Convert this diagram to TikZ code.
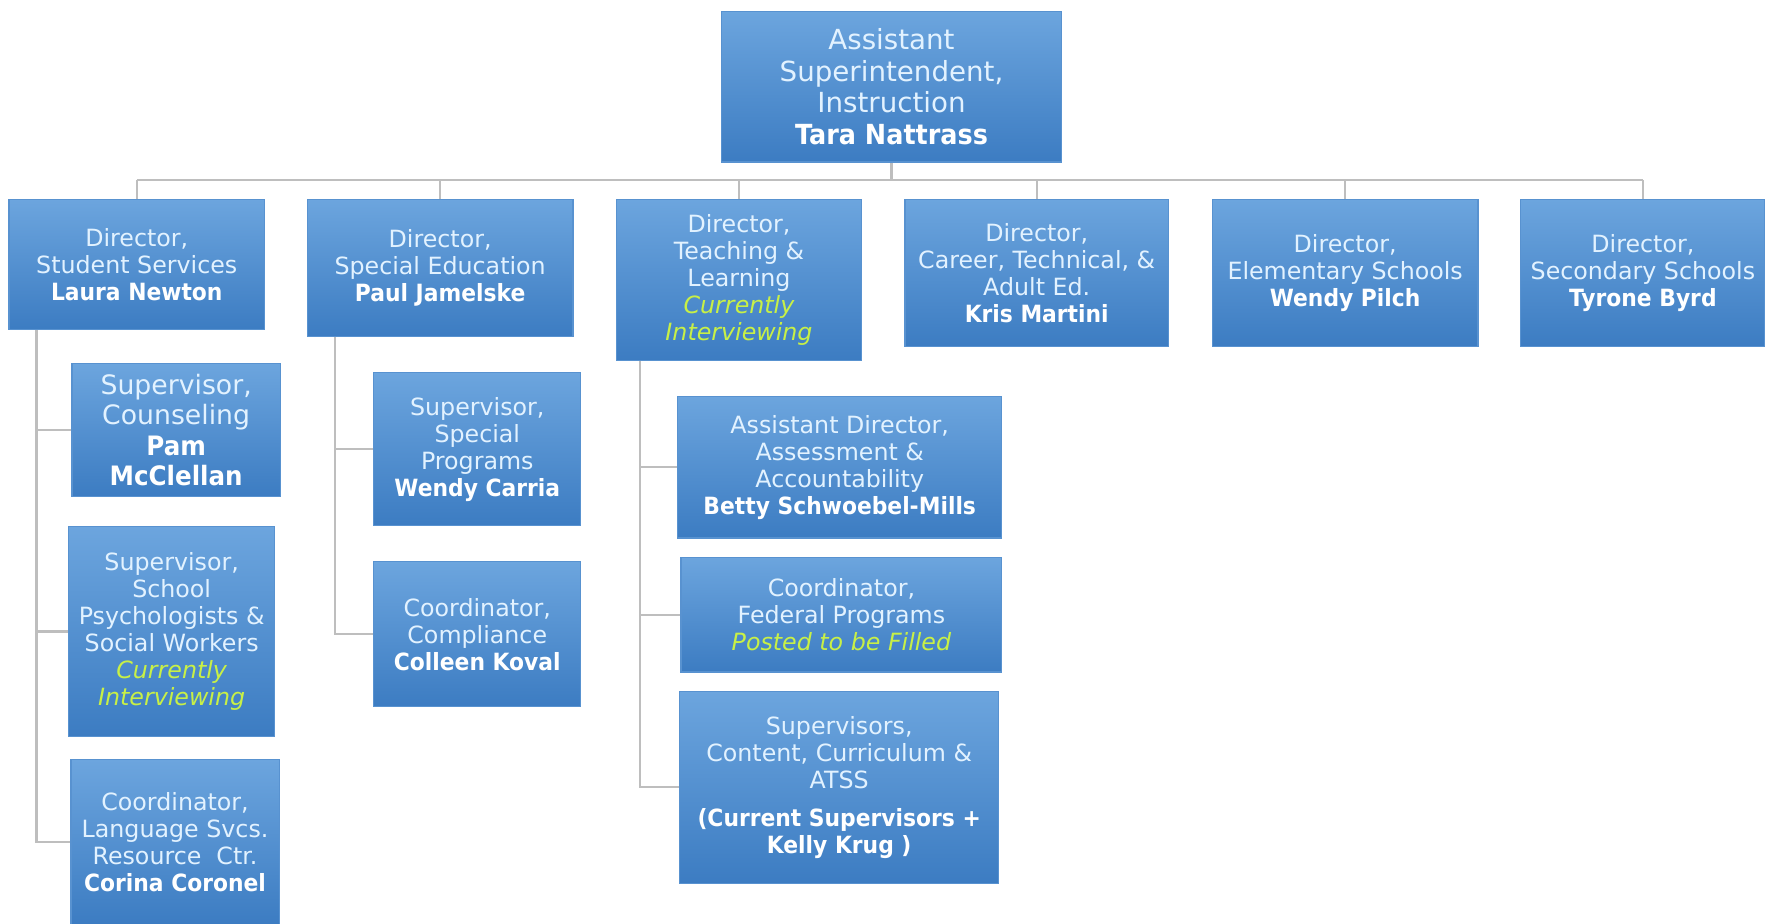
\documentclass[tikz,border=0pt]{standalone}
\usepackage{fontspec}
\setmainfont{DejaVu Sans}[BoldFeatures={FakeStretch=0.92}]
\definecolor{boxtop}{RGB}{108,165,222}
\definecolor{boxbot}{RGB}{60,124,194}
\definecolor{boxedge}{RGB}{88,146,208}
\definecolor{boxtext}{RGB}{226,242,255}
\definecolor{pending}{RGB}{200,240,70}
\definecolor{wire}{RGB}{190,190,190}
\tikzset{
  box/.style={rectangle, draw=boxedge, line width=0.6pt, top color=boxtop, bottom color=boxbot,
    text=boxtext, align=center, inner sep=0pt, font=\fontsize{12}{13.66}\selectfont},
  sz/.style 2 args={minimum width=#1*0.02cm, minimum height=#2*0.02cm},
  wire/.style={draw=wire, line width=1.1pt},
}
\newcommand{\who}[1]{\textbf{\color{white}#1}}
\newcommand{\open}[1]{{\color{pending}\itshape #1}}
\begin{document}
\begin{tikzpicture}[x=0.02cm, y=-0.02cm]
\useasboundingbox (0,0) rectangle (1568,820);

\node[box, sz={302}{134}, font=\fontsize{14}{15.9}\selectfont] (sup) at (792,77)
  {Assistant\\Superintendent,\\Instruction\\\who{Tara Nattrass}};

\node[box, sz={227}{116}] (dss) at (121.5,235) {Director,\\Student Services\\\who{Laura Newton}};
\node[box, sz={236}{122}] (dse) at (391,238) {Director,\\Special Education\\\who{Paul Jamelske}};
\node[box, sz={217}{143}] (dtl) at (656.5,248.5) {Director,\\Teaching \&\\Learning\\\open{Currently}\\\open{Interviewing}};
\node[box, sz={234}{131}] (dct) at (921,242.5) {Director,\\Career, Technical, \&\\Adult Ed.\\\who{Kris Martini}};
\node[box, sz={236}{131}] (des) at (1195,242.5) {Director,\\Elementary Schools\\\who{Wendy Pilch}};
\node[box, sz={217}{131}] (dsc) at (1459.5,242.5) {Director,\\Secondary Schools\\\who{Tyrone Byrd}};

\node[box, sz={185}{118}, font=\fontsize{13.5}{15.4}\selectfont] (pam) at (156.5,382)
  {Supervisor,\\Counseling\\\who{Pam}\\\who{McClellan}};
\node[box, sz={183}{186}] (psy) at (152.5,561)
  {Supervisor,\\School\\Psychologists \&\\Social Workers\\\open{Currently}\\\open{Interviewing}};
\node[box, sz={185}{146}] (cor) at (155.5,748)
  {Coordinator,\\Language Svcs.\\Resource\ \ Ctr.\\\who{Corina Coronel}};

\node[box, sz={184}{136}] (car) at (424,399) {Supervisor,\\Special\\Programs\\\who{Wendy Carria}};
\node[box, sz={184}{129}] (kov) at (424,563.5) {Coordinator,\\Compliance\\\who{Colleen Koval}};

\node[box, sz={288}{126}] (bet) at (746,415)
  {Assistant Director,\\Assessment \&\\Accountability\\\who{Betty Schwoebel-Mills}};
\node[box, sz={285}{102}] (fed) at (747.5,546)
  {Coordinator,\\Federal Programs\\\open{Posted to be Filled}};
\node[box, sz={283}{171}] (cur) at (745.5,699.5)
  {Supervisors,\\Content, Curriculum \&\\ATSS\\[5.5pt]\who{(Current Supervisors +}\\\who{Kelly Krug )}};

% bus under the top box
\coordinate (bus) at (792,160);
\draw[wire] (sup.south) -- (bus);
\draw[wire] (dss.north |- bus) -- (dsc.north |- bus);
\foreach \d in {dss,dse,dtl,dct,des,dsc}
  \draw[wire] (\d.north) -- (\d.north |- bus);

% side trunks
\foreach \s in {pam,psy,cor}
  \draw[wire] ([xshift=25*0.02cm]dss.south west) |- (\s.west);
\foreach \s in {car,kov}
  \draw[wire] ([xshift=25*0.02cm]dse.south west) |- (\s.west);
\foreach \s in {bet,fed,cur}
  \draw[wire] ([xshift=21*0.02cm]dtl.south west) |- (\s.west);
\end{tikzpicture}
\end{document}
